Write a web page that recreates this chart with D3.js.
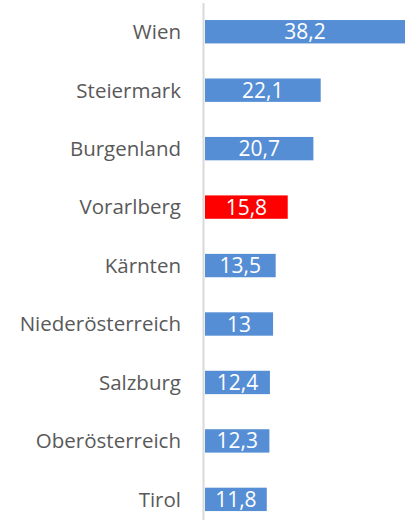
<!DOCTYPE html>
<html>
<head>
<meta charset="utf-8">
<script src="https://cdn.jsdelivr.net/npm/d3@7"></script>
<style>
  html, body { margin: 0; padding: 0; background: #fff; }
  svg { display: block; }
</style>
</head>
<body>
<svg id="chart" width="411" height="520"></svg>
<script>
// Bundesländer and their values
const categories = ["Wien", "Steiermark", "Burgenland", "Vorarlberg", "Kärnten",
  "Niederösterreich", "Salzburg", "Oberösterreich", "Tirol"];
const values = [38.2, 22.1, 20.7, 15.8, 13.5, 13, 12.4, 12.3, 11.8];
const highlighted = ["Vorarlberg"];

const width = 411, height = 520;

const svg = d3.select("#chart");

const x = d3.scaleLinear()
  .domain([0, 38.2])
  .range([205, 405]);

const y = d3.scaleBand()
  .domain(categories)
  .range([2.5, 528.6])
  .paddingInner(0.6)
  .paddingOuter(0.3);

const fmt = v => String(v).replace(".", ",");

// bars
svg.append("g")
  .selectAll("rect")
  .data(categories)
  .join("rect")
  .attr("x", x(0))
  .attr("y", d => y(d))
  .attr("width", (d, i) => x(values[i]) - x(0))
  .attr("height", y.bandwidth())
  .attr("fill", d => highlighted.includes(d) ? "#ff0000" : "#558ed5");

// vertical category axis line
svg.append("line")
  .attr("x1", 203.5).attr("x2", 203.5)
  .attr("y1", 3).attr("y2", height)
  .attr("stroke", "#d9d9d9")
  .attr("stroke-width", 2);

// category labels
const axis = d3.axisLeft(y).tickSize(0).tickPadding(0);
const gAxis = svg.append("g")
  .attr("transform", "translate(181,0)")
  .call(axis);
gAxis.select(".domain").remove();
gAxis.selectAll("text")
  .attr("font-family", "'Open Sans', sans-serif")
  .attr("font-size", 20.5)
  .attr("fill", "#595959")
  .attr("dy", "0.36em");

// value labels
svg.append("g")
  .selectAll("text")
  .data(categories)
  .join("text")
  .attr("x", (d, i) => (x(0) + x(values[i])) / 2)
  .attr("y", d => y(d) + y.bandwidth() / 2)
  .attr("dy", "0.36em")
  .attr("text-anchor", "middle")
  .attr("font-family", "'Open Sans', sans-serif")
  .attr("font-size", 21)
  .attr("fill", "#ffffff")
  .text((d, i) => fmt(values[i]));
</script>
</body>
</html>
